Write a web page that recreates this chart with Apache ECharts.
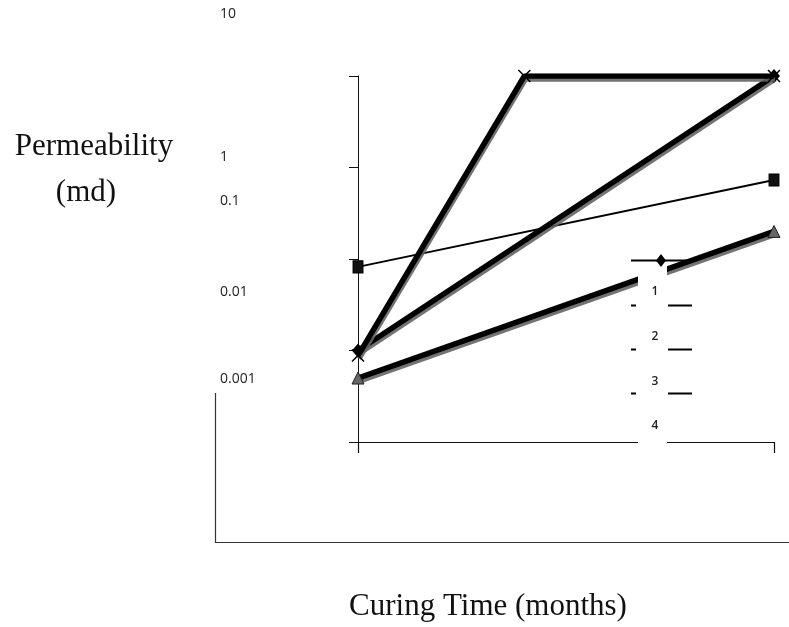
<!DOCTYPE html>
<html>
<head>
<meta charset="utf-8">
<script src="https://cdn.jsdelivr.net/npm/echarts@6/dist/echarts.min.js"></script>
<style>html,body{margin:0;padding:0;background:#fff;}#c{width:789px;height:627px;}</style>
</head>
<body>
<div id="c"></div>
<script>
// ---- data ----
const seriesNames = ['1', '2', '3', '4'];
const s1Months = [0, 5];
const s1Perm = [0.01, 10];
const s2Months = [0, 5];
const s2Perm = [0.082, 0.73];
const s3Months = [0, 5];
const s3Perm = [0.005, 0.2];
const s4Months = [0, 2, 5];
const s4Perm = [0.0088, 10, 10];
const yTickLabels = ['10', '1', '0.1', '0.01', '0.001'];
const yTitleLines = ['Permeability', '(md)'];
const xTitle = 'Curing Time (months)';

function pairs(xs, ys) { return xs.map((x, i) => [x, ys[i]]); }

const chart = echarts.init(document.getElementById('c'), null, {renderer: 'canvas'});

const thickShadow = {
  width: 5.5, color: '#000', shadowColor: 'rgba(100,100,100,0.9)',
  shadowOffsetX: 1, shadowOffsetY: 3, shadowBlur: 0
};

// positions for displaced tick-label texts
const tickLabelY = [14, 157, 201, 292, 379];
const legendTextY = [292, 337, 382, 426];
const legendDashY = [305, 349, 393];

const graphics = [];
yTickLabels.forEach((t, i) => {
  graphics.push({type: 'text', x: 220, y: tickLabelY[i],
    style: {text: t, font: '14px "Open Sans", sans-serif', fill: '#222', align: 'left', verticalAlign: 'middle'}});
});
graphics.push({type: 'text', x: 94, y: 147, style: {text: yTitleLines[0], font: '31px "Liberation Serif", serif', fill: '#111', align: 'center', verticalAlign: 'middle'}});
graphics.push({type: 'text', x: 86, y: 193, style: {text: yTitleLines[1], font: '31px "Liberation Serif", serif', fill: '#111', align: 'center', verticalAlign: 'middle'}});
graphics.push({type: 'text', x: 488, y: 607, style: {text: xTitle, font: '31px "Liberation Serif", serif', fill: '#111', align: 'center', verticalAlign: 'middle'}});
// outer frame
graphics.push({type: 'polyline', shape: {points: [[215.5, 393], [215.5, 542.5], [789, 542.5]]}, style: {stroke: '#333', lineWidth: 1.2, fill: null}, z: 50});
// legend box
graphics.push({type: 'rect', shape: {x: 638, y: 266, width: 29, height: 192}, style: {fill: '#fff'}, z: 100});
graphics.push({type: 'line', shape: {x1: 631, y1: 260.5, x2: 690, y2: 260.5}, style: {stroke: '#000', lineWidth: 2}, z: 101});
graphics.push({type: 'polygon', shape: {points: [[661, 254], [666, 260.5], [661, 267], [656, 260.5]]}, style: {fill: '#000'}, z: 102});
legendDashY.forEach(y => {
  graphics.push({type: 'line', shape: {x1: 631, y1: y + 0.5, x2: 636, y2: y + 0.5}, style: {stroke: '#000', lineWidth: 2}, z: 101});
  graphics.push({type: 'line', shape: {x1: 668, y1: y + 0.5, x2: 692, y2: y + 0.5}, style: {stroke: '#000', lineWidth: 2}, z: 101});
});
seriesNames.forEach((n, i) => {
  graphics.push({type: 'text', x: 655, y: legendTextY[i], style: {text: n, font: '600 12px "Open Sans", sans-serif', fill: '#222', align: 'center', verticalAlign: 'middle'}, z: 103});
});

const option = {
  backgroundColor: '#fff',
  animation: false,
  grid: {left: 358, right: 15, top: 76, bottom: 185, containLabel: false},
  xAxis: {
    type: 'value', min: 0, max: 5, interval: 5,
    axisLine: {show: true, onZero: false, lineStyle: {color: '#111', width: 1}},
    axisTick: {show: true, length: 11, lineStyle: {color: '#111', width: 1.2}},
    axisLabel: {show: false}, splitLine: {show: false}
  },
  yAxis: {
    type: 'log', logBase: 10, min: 0.001, max: 10,
    axisLine: {show: true, lineStyle: {color: '#111', width: 1}},
    axisTick: {show: true, length: 9, lineStyle: {color: '#111', width: 1}},
    axisLabel: {show: false}, splitLine: {show: false}, minorTick: {show: false}
  },
  series: [
    {name: seriesNames[1], type: 'line', data: pairs(s2Months, s2Perm),
     symbol: 'rect', symbolSize: [10, 12],
     itemStyle: {color: '#111', borderColor: '#000', borderWidth: 1},
     lineStyle: {width: 2, color: '#000'}, z: 3},
    {name: seriesNames[2], type: 'line', data: pairs(s3Months, s3Perm),
     symbol: 'triangle', symbolSize: 12,
     itemStyle: {color: '#666', borderColor: '#222', borderWidth: 1},
     lineStyle: thickShadow, z: 4},
    {name: seriesNames[0], type: 'line', data: pairs(s1Months, s1Perm),
     symbol: 'diamond', symbolSize: [12, 14],
     itemStyle: {color: '#000'},
     lineStyle: thickShadow, z: 5},
    {name: seriesNames[3], type: 'line', data: pairs(s4Months, s4Perm),
     symbol: 'path://M0,0L10,10M10,0L0,10', symbolSize: 12,
     itemStyle: {color: 'rgba(0,0,0,0)', borderColor: '#000', borderWidth: 1.5},
     lineStyle: thickShadow, z: 6}
  ],
  graphic: graphics
};
chart.setOption(option);
</script>
</body>
</html>
